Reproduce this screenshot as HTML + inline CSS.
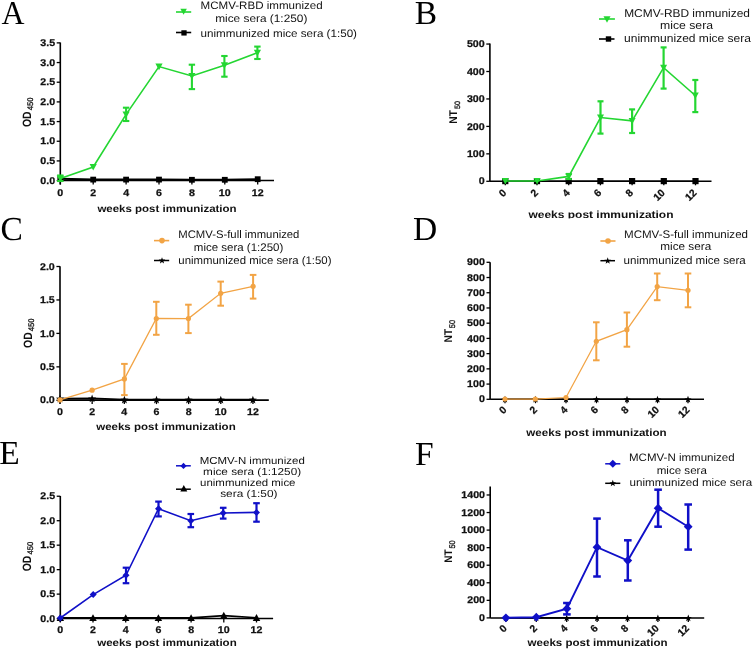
<!DOCTYPE html>
<html><head><meta charset="utf-8"><style>
html,body{margin:0;padding:0;background:#fff;}
body{width:753px;height:649px;overflow:hidden;}
svg{display:block;filter:blur(0.3px);}
</style></head><body>
<svg width="753" height="649" viewBox="0 0 753 649" text-rendering="geometricPrecision">
<rect width="753" height="649" fill="#fff"/>
<text x="1.6" y="24.2" font-family="Liberation Serif" font-size="33.5" fill="#000" transform="translate(1.6 0) scale(0.95 1) translate(-1.6 0)">A</text>
<line x1="60.30" y1="42.50" x2="60.30" y2="184.50" stroke="#000" stroke-width="1.6"/>
<line x1="56.70" y1="180.60" x2="60.30" y2="180.60" stroke="#000" stroke-width="1.3"/>
<text x="0" y="0" font-family="Liberation Sans" font-size="9.7" font-weight="bold" text-anchor="end" fill="#111" stroke="#111" stroke-width="0.25" transform="translate(55.10 183.70) scale(1.1 1)">0.0</text>
<line x1="56.70" y1="160.92" x2="60.30" y2="160.92" stroke="#000" stroke-width="1.3"/>
<text x="0" y="0" font-family="Liberation Sans" font-size="9.7" font-weight="bold" text-anchor="end" fill="#111" stroke="#111" stroke-width="0.25" transform="translate(55.10 164.02) scale(1.1 1)">0.5</text>
<line x1="56.70" y1="141.25" x2="60.30" y2="141.25" stroke="#000" stroke-width="1.3"/>
<text x="0" y="0" font-family="Liberation Sans" font-size="9.7" font-weight="bold" text-anchor="end" fill="#111" stroke="#111" stroke-width="0.25" transform="translate(55.10 144.35) scale(1.1 1)">1.0</text>
<line x1="56.70" y1="121.57" x2="60.30" y2="121.57" stroke="#000" stroke-width="1.3"/>
<text x="0" y="0" font-family="Liberation Sans" font-size="9.7" font-weight="bold" text-anchor="end" fill="#111" stroke="#111" stroke-width="0.25" transform="translate(55.10 124.67) scale(1.1 1)">1.5</text>
<line x1="56.70" y1="101.90" x2="60.30" y2="101.90" stroke="#000" stroke-width="1.3"/>
<text x="0" y="0" font-family="Liberation Sans" font-size="9.7" font-weight="bold" text-anchor="end" fill="#111" stroke="#111" stroke-width="0.25" transform="translate(55.10 105.00) scale(1.1 1)">2.0</text>
<line x1="56.70" y1="82.22" x2="60.30" y2="82.22" stroke="#000" stroke-width="1.3"/>
<text x="0" y="0" font-family="Liberation Sans" font-size="9.7" font-weight="bold" text-anchor="end" fill="#111" stroke="#111" stroke-width="0.25" transform="translate(55.10 85.32) scale(1.1 1)">2.5</text>
<line x1="56.70" y1="62.55" x2="60.30" y2="62.55" stroke="#000" stroke-width="1.3"/>
<text x="0" y="0" font-family="Liberation Sans" font-size="9.7" font-weight="bold" text-anchor="end" fill="#111" stroke="#111" stroke-width="0.25" transform="translate(55.10 65.65) scale(1.1 1)">3.0</text>
<line x1="56.70" y1="42.88" x2="60.30" y2="42.88" stroke="#000" stroke-width="1.3"/>
<text x="0" y="0" font-family="Liberation Sans" font-size="9.7" font-weight="bold" text-anchor="end" fill="#111" stroke="#111" stroke-width="0.25" transform="translate(55.10 45.98) scale(1.1 1)">3.5</text>
<line x1="60.30" y1="180.50" x2="274.00" y2="180.50" stroke="#000" stroke-width="1.6"/>
<line x1="60.30" y1="180.50" x2="60.30" y2="184.50" stroke="#000" stroke-width="1.3"/>
<text x="0" y="0" font-family="Liberation Sans" font-size="9.7" font-weight="bold" text-anchor="middle" fill="#111" stroke="#111" stroke-width="0.25" transform="translate(60.30 195.90) scale(1.1 1)">0</text>
<line x1="93.20" y1="180.50" x2="93.20" y2="184.50" stroke="#000" stroke-width="1.3"/>
<text x="0" y="0" font-family="Liberation Sans" font-size="9.7" font-weight="bold" text-anchor="middle" fill="#111" stroke="#111" stroke-width="0.25" transform="translate(93.20 195.90) scale(1.1 1)">2</text>
<line x1="126.10" y1="180.50" x2="126.10" y2="184.50" stroke="#000" stroke-width="1.3"/>
<text x="0" y="0" font-family="Liberation Sans" font-size="9.7" font-weight="bold" text-anchor="middle" fill="#111" stroke="#111" stroke-width="0.25" transform="translate(126.10 195.90) scale(1.1 1)">4</text>
<line x1="159.00" y1="180.50" x2="159.00" y2="184.50" stroke="#000" stroke-width="1.3"/>
<text x="0" y="0" font-family="Liberation Sans" font-size="9.7" font-weight="bold" text-anchor="middle" fill="#111" stroke="#111" stroke-width="0.25" transform="translate(159.00 195.90) scale(1.1 1)">6</text>
<line x1="191.90" y1="180.50" x2="191.90" y2="184.50" stroke="#000" stroke-width="1.3"/>
<text x="0" y="0" font-family="Liberation Sans" font-size="9.7" font-weight="bold" text-anchor="middle" fill="#111" stroke="#111" stroke-width="0.25" transform="translate(191.90 195.90) scale(1.1 1)">8</text>
<line x1="224.80" y1="180.50" x2="224.80" y2="184.50" stroke="#000" stroke-width="1.3"/>
<text x="0" y="0" font-family="Liberation Sans" font-size="9.7" font-weight="bold" text-anchor="middle" fill="#111" stroke="#111" stroke-width="0.25" transform="translate(224.80 195.90) scale(1.1 1)">10</text>
<line x1="257.70" y1="180.50" x2="257.70" y2="184.50" stroke="#000" stroke-width="1.3"/>
<text x="0" y="0" font-family="Liberation Sans" font-size="9.7" font-weight="bold" text-anchor="middle" fill="#111" stroke="#111" stroke-width="0.25" transform="translate(257.70 195.90) scale(1.1 1)">12</text>
<text x="97.40" y="211.60" font-family="Liberation Sans" font-size="10.2" font-weight="bold" text-anchor="start" fill="#111" textLength="139.20" lengthAdjust="spacingAndGlyphs">weeks post immunization</text>
<g transform="translate(31.30 127.00) rotate(-90)"><text x="0" y="0" font-family="Liberation Sans" font-size="10.4" font-weight="bold" fill="#111" transform="scale(1 1.16)">OD</text><text x="0" y="0" font-family="Liberation Sans" font-size="7.7" font-weight="normal" fill="#111" stroke="#111" stroke-width="0.3" transform="translate(16.70 2.10) scale(1 1.05)">450</text></g>
<polyline points="60.30,178.80 93.20,179.60 126.10,179.60 159.00,179.60 191.90,179.80 224.80,179.80 257.70,179.20" fill="none" stroke="#000" stroke-width="2.0" stroke-linejoin="miter"/>
<rect x="57.40" y="175.90" width="5.80" height="5.80" fill="#000"/>
<rect x="90.30" y="176.70" width="5.80" height="5.80" fill="#000"/>
<rect x="123.20" y="176.70" width="5.80" height="5.80" fill="#000"/>
<rect x="156.10" y="176.70" width="5.80" height="5.80" fill="#000"/>
<rect x="189.00" y="176.90" width="5.80" height="5.80" fill="#000"/>
<rect x="221.90" y="176.90" width="5.80" height="5.80" fill="#000"/>
<rect x="254.80" y="176.30" width="5.80" height="5.80" fill="#000"/>
<polyline points="60.30,178.50 93.20,167.00 126.10,114.40 159.00,66.60 191.90,75.90 224.40,65.20 257.40,52.70" fill="none" stroke="#24d632" stroke-width="1.6" stroke-linejoin="miter"/>
<line x1="60.30" y1="175.50" x2="60.30" y2="181.00" stroke="#24d632" stroke-width="2.1"/>
<line x1="57.10" y1="175.50" x2="63.50" y2="175.50" stroke="#24d632" stroke-width="2.1"/>
<line x1="57.10" y1="181.00" x2="63.50" y2="181.00" stroke="#24d632" stroke-width="2.1"/>
<line x1="126.10" y1="107.70" x2="126.10" y2="121.00" stroke="#24d632" stroke-width="2.1"/>
<line x1="122.90" y1="107.70" x2="129.30" y2="107.70" stroke="#24d632" stroke-width="2.1"/>
<line x1="122.90" y1="121.00" x2="129.30" y2="121.00" stroke="#24d632" stroke-width="2.1"/>
<line x1="191.90" y1="64.70" x2="191.90" y2="89.10" stroke="#24d632" stroke-width="2.1"/>
<line x1="188.70" y1="64.70" x2="195.10" y2="64.70" stroke="#24d632" stroke-width="2.1"/>
<line x1="188.70" y1="89.10" x2="195.10" y2="89.10" stroke="#24d632" stroke-width="2.1"/>
<line x1="224.40" y1="56.00" x2="224.40" y2="76.70" stroke="#24d632" stroke-width="2.1"/>
<line x1="221.20" y1="56.00" x2="227.60" y2="56.00" stroke="#24d632" stroke-width="2.1"/>
<line x1="221.20" y1="76.70" x2="227.60" y2="76.70" stroke="#24d632" stroke-width="2.1"/>
<line x1="257.40" y1="46.60" x2="257.40" y2="59.00" stroke="#24d632" stroke-width="2.1"/>
<line x1="254.20" y1="46.60" x2="260.60" y2="46.60" stroke="#24d632" stroke-width="2.1"/>
<line x1="254.20" y1="59.00" x2="260.60" y2="59.00" stroke="#24d632" stroke-width="2.1"/>
<polygon points="56.70,175.48 63.90,175.48 60.30,182.10" fill="#24d632"/>
<polygon points="89.60,163.98 96.80,163.98 93.20,170.60" fill="#24d632"/>
<polygon points="122.50,111.38 129.70,111.38 126.10,118.00" fill="#24d632"/>
<polygon points="155.40,63.58 162.60,63.58 159.00,70.20" fill="#24d632"/>
<polygon points="188.30,72.88 195.50,72.88 191.90,79.50" fill="#24d632"/>
<polygon points="220.80,62.18 228.00,62.18 224.40,68.80" fill="#24d632"/>
<polygon points="253.80,49.68 261.00,49.68 257.40,56.30" fill="#24d632"/>
<line x1="176.00" y1="12.00" x2="191.20" y2="12.00" stroke="#24d632" stroke-width="1.6"/>
<polygon points="180.35,8.87 186.85,8.87 183.60,14.85" fill="#24d632"/>
<text x="200.50" y="9.00" font-family="Liberation Sans" font-size="10.8" font-weight="normal" text-anchor="start" fill="#111" textLength="122.20" lengthAdjust="spacingAndGlyphs">MCMV-RBD immunized</text>
<text x="215.20" y="21.90" font-family="Liberation Sans" font-size="10.8" font-weight="normal" text-anchor="start" fill="#111" textLength="92.20" lengthAdjust="spacingAndGlyphs">mice sera (1:250)</text>
<line x1="176.00" y1="32.50" x2="191.20" y2="32.50" stroke="#000" stroke-width="1.6"/>
<rect x="181.35" y="30.25" width="5.30" height="5.30" fill="#000"/>
<text x="200.50" y="36.50" font-family="Liberation Sans" font-size="10.8" font-weight="normal" text-anchor="start" fill="#111" textLength="156.50" lengthAdjust="spacingAndGlyphs">unimmunized mice sera (1:50)</text>
<text x="414.70" y="23.90" font-family="Liberation Serif" font-size="33.5" fill="#000">B</text>
<line x1="489.90" y1="43.50" x2="489.90" y2="181.30" stroke="#000" stroke-width="1.6"/>
<line x1="486.30" y1="181.30" x2="489.90" y2="181.30" stroke="#000" stroke-width="1.3"/>
<text x="0" y="0" font-family="Liberation Sans" font-size="9.7" font-weight="bold" text-anchor="end" fill="#111" stroke="#111" stroke-width="0.25" transform="translate(484.70 184.40) scale(1.1 1)">0</text>
<line x1="486.30" y1="153.85" x2="489.90" y2="153.85" stroke="#000" stroke-width="1.3"/>
<text x="0" y="0" font-family="Liberation Sans" font-size="9.7" font-weight="bold" text-anchor="end" fill="#111" stroke="#111" stroke-width="0.25" transform="translate(484.70 156.95) scale(1.1 1)">100</text>
<line x1="486.30" y1="126.40" x2="489.90" y2="126.40" stroke="#000" stroke-width="1.3"/>
<text x="0" y="0" font-family="Liberation Sans" font-size="9.7" font-weight="bold" text-anchor="end" fill="#111" stroke="#111" stroke-width="0.25" transform="translate(484.70 129.50) scale(1.1 1)">200</text>
<line x1="486.30" y1="98.95" x2="489.90" y2="98.95" stroke="#000" stroke-width="1.3"/>
<text x="0" y="0" font-family="Liberation Sans" font-size="9.7" font-weight="bold" text-anchor="end" fill="#111" stroke="#111" stroke-width="0.25" transform="translate(484.70 102.05) scale(1.1 1)">300</text>
<line x1="486.30" y1="71.50" x2="489.90" y2="71.50" stroke="#000" stroke-width="1.3"/>
<text x="0" y="0" font-family="Liberation Sans" font-size="9.7" font-weight="bold" text-anchor="end" fill="#111" stroke="#111" stroke-width="0.25" transform="translate(484.70 74.60) scale(1.1 1)">400</text>
<line x1="486.30" y1="44.05" x2="489.90" y2="44.05" stroke="#000" stroke-width="1.3"/>
<text x="0" y="0" font-family="Liberation Sans" font-size="9.7" font-weight="bold" text-anchor="end" fill="#111" stroke="#111" stroke-width="0.25" transform="translate(484.70 47.15) scale(1.1 1)">500</text>
<line x1="489.90" y1="181.30" x2="711.50" y2="181.30" stroke="#000" stroke-width="1.6"/>
<line x1="505.30" y1="181.30" x2="505.30" y2="185.30" stroke="#000" stroke-width="1.3"/>
<text x="0" y="0" font-family="Liberation Sans" font-size="10.299999999999999" font-weight="bold" text-anchor="end" fill="#111" stroke="#111" stroke-width="0.25" transform="translate(502.10 188.50) rotate(-45) translate(0 6.98)">0</text>
<line x1="537.00" y1="181.30" x2="537.00" y2="185.30" stroke="#000" stroke-width="1.3"/>
<text x="0" y="0" font-family="Liberation Sans" font-size="10.299999999999999" font-weight="bold" text-anchor="end" fill="#111" stroke="#111" stroke-width="0.25" transform="translate(533.80 188.50) rotate(-45) translate(0 6.98)">2</text>
<line x1="568.70" y1="181.30" x2="568.70" y2="185.30" stroke="#000" stroke-width="1.3"/>
<text x="0" y="0" font-family="Liberation Sans" font-size="10.299999999999999" font-weight="bold" text-anchor="end" fill="#111" stroke="#111" stroke-width="0.25" transform="translate(565.50 188.50) rotate(-45) translate(0 6.98)">4</text>
<line x1="600.40" y1="181.30" x2="600.40" y2="185.30" stroke="#000" stroke-width="1.3"/>
<text x="0" y="0" font-family="Liberation Sans" font-size="10.299999999999999" font-weight="bold" text-anchor="end" fill="#111" stroke="#111" stroke-width="0.25" transform="translate(597.20 188.50) rotate(-45) translate(0 6.98)">6</text>
<line x1="632.10" y1="181.30" x2="632.10" y2="185.30" stroke="#000" stroke-width="1.3"/>
<text x="0" y="0" font-family="Liberation Sans" font-size="10.299999999999999" font-weight="bold" text-anchor="end" fill="#111" stroke="#111" stroke-width="0.25" transform="translate(628.90 188.50) rotate(-45) translate(0 6.98)">8</text>
<line x1="663.80" y1="181.30" x2="663.80" y2="185.30" stroke="#000" stroke-width="1.3"/>
<text x="0" y="0" font-family="Liberation Sans" font-size="10.299999999999999" font-weight="bold" text-anchor="end" fill="#111" stroke="#111" stroke-width="0.25" transform="translate(660.60 188.50) rotate(-45) translate(0 6.98)">10</text>
<line x1="695.50" y1="181.30" x2="695.50" y2="185.30" stroke="#000" stroke-width="1.3"/>
<text x="0" y="0" font-family="Liberation Sans" font-size="10.299999999999999" font-weight="bold" text-anchor="end" fill="#111" stroke="#111" stroke-width="0.25" transform="translate(692.30 188.50) rotate(-45) translate(0 6.98)">12</text>
<text x="528.50" y="218.30" font-family="Liberation Sans" font-size="10.4" font-weight="bold" text-anchor="start" fill="#111" textLength="145.00" lengthAdjust="spacingAndGlyphs">weeks post immunization</text>
<g transform="translate(457.30 123.70) rotate(-90)"><text x="0" y="0" font-family="Liberation Sans" font-size="10.2" font-weight="bold" fill="#111" transform="scale(1 1.1)">NT</text><text x="0" y="0" font-family="Liberation Sans" font-size="7.2" font-weight="normal" fill="#111" stroke="#111" stroke-width="0.3" transform="translate(14.60 2.40) scale(1 1.07)">50</text></g>
<polyline points="505.30,181.10 537.00,181.10 568.70,181.10 600.40,181.10 632.10,181.10 663.80,181.10 695.50,181.10" fill="none" stroke="#000" stroke-width="1.2" stroke-linejoin="miter"/>
<rect x="502.20" y="178.00" width="6.20" height="6.20" fill="#000"/>
<rect x="533.90" y="178.00" width="6.20" height="6.20" fill="#000"/>
<rect x="565.60" y="178.00" width="6.20" height="6.20" fill="#000"/>
<rect x="597.30" y="178.00" width="6.20" height="6.20" fill="#000"/>
<rect x="629.00" y="178.00" width="6.20" height="6.20" fill="#000"/>
<rect x="660.70" y="178.00" width="6.20" height="6.20" fill="#000"/>
<rect x="692.40" y="178.00" width="6.20" height="6.20" fill="#000"/>
<polyline points="505.30,181.00 537.10,181.00 568.80,176.40 600.50,117.50 632.10,120.90 663.60,67.70 695.30,95.50" fill="none" stroke="#24d632" stroke-width="1.6" stroke-linejoin="miter"/>
<line x1="568.80" y1="174.00" x2="568.80" y2="179.00" stroke="#24d632" stroke-width="2.2"/>
<line x1="565.80" y1="174.00" x2="571.80" y2="174.00" stroke="#24d632" stroke-width="2.2"/>
<line x1="565.80" y1="179.00" x2="571.80" y2="179.00" stroke="#24d632" stroke-width="2.2"/>
<line x1="600.50" y1="101.30" x2="600.50" y2="133.60" stroke="#24d632" stroke-width="2.2"/>
<line x1="597.50" y1="101.30" x2="603.50" y2="101.30" stroke="#24d632" stroke-width="2.2"/>
<line x1="597.50" y1="133.60" x2="603.50" y2="133.60" stroke="#24d632" stroke-width="2.2"/>
<line x1="632.10" y1="109.40" x2="632.10" y2="133.00" stroke="#24d632" stroke-width="2.2"/>
<line x1="629.10" y1="109.40" x2="635.10" y2="109.40" stroke="#24d632" stroke-width="2.2"/>
<line x1="629.10" y1="133.00" x2="635.10" y2="133.00" stroke="#24d632" stroke-width="2.2"/>
<line x1="663.60" y1="47.40" x2="663.60" y2="88.60" stroke="#24d632" stroke-width="2.2"/>
<line x1="660.60" y1="47.40" x2="666.60" y2="47.40" stroke="#24d632" stroke-width="2.2"/>
<line x1="660.60" y1="88.60" x2="666.60" y2="88.60" stroke="#24d632" stroke-width="2.2"/>
<line x1="695.30" y1="80.00" x2="695.30" y2="112.10" stroke="#24d632" stroke-width="2.2"/>
<line x1="692.30" y1="80.00" x2="698.30" y2="80.00" stroke="#24d632" stroke-width="2.2"/>
<line x1="692.30" y1="112.10" x2="698.30" y2="112.10" stroke="#24d632" stroke-width="2.2"/>
<polygon points="501.80,178.06 508.80,178.06 505.30,184.50" fill="#24d632"/>
<polygon points="533.60,178.06 540.60,178.06 537.10,184.50" fill="#24d632"/>
<polygon points="565.30,173.46 572.30,173.46 568.80,179.90" fill="#24d632"/>
<polygon points="597.00,114.56 604.00,114.56 600.50,121.00" fill="#24d632"/>
<polygon points="628.60,117.96 635.60,117.96 632.10,124.40" fill="#24d632"/>
<polygon points="660.10,64.76 667.10,64.76 663.60,71.20" fill="#24d632"/>
<polygon points="691.80,92.56 698.80,92.56 695.30,99.00" fill="#24d632"/>
<line x1="599.00" y1="19.00" x2="614.90" y2="19.00" stroke="#24d632" stroke-width="1.6"/>
<polygon points="603.50,16.36 610.50,16.36 607.00,22.80" fill="#24d632"/>
<text x="624.20" y="17.30" font-family="Liberation Sans" font-size="11.3" font-weight="normal" text-anchor="start" fill="#111" textLength="125.80" lengthAdjust="spacingAndGlyphs">MCMV-RBD immunized</text>
<text x="660.00" y="29.20" font-family="Liberation Sans" font-size="11.3" font-weight="normal" text-anchor="start" fill="#111" textLength="53.00" lengthAdjust="spacingAndGlyphs">mice sera</text>
<line x1="599.00" y1="39.00" x2="614.50" y2="39.00" stroke="#000" stroke-width="1.6"/>
<rect x="605.80" y="36.30" width="5.40" height="5.40" fill="#000"/>
<text x="624.00" y="42.20" font-family="Liberation Sans" font-size="11.3" font-weight="normal" text-anchor="start" fill="#111" textLength="127.00" lengthAdjust="spacingAndGlyphs">unimmunized mice sera</text>
<rect x="376" y="218.4" width="377" height="6" fill="#fff"/>
<text x="0.50" y="239.80" font-family="Liberation Serif" font-size="33.5" fill="#000">C</text>
<line x1="60.00" y1="266.30" x2="60.00" y2="403.50" stroke="#000" stroke-width="1.6"/>
<line x1="56.40" y1="400.30" x2="60.00" y2="400.30" stroke="#000" stroke-width="1.3"/>
<text x="0" y="0" font-family="Liberation Sans" font-size="9.7" font-weight="bold" text-anchor="end" fill="#111" stroke="#111" stroke-width="0.25" transform="translate(54.80 403.40) scale(1.1 1)">0.0</text>
<line x1="56.40" y1="366.85" x2="60.00" y2="366.85" stroke="#000" stroke-width="1.3"/>
<text x="0" y="0" font-family="Liberation Sans" font-size="9.7" font-weight="bold" text-anchor="end" fill="#111" stroke="#111" stroke-width="0.25" transform="translate(54.80 369.95) scale(1.1 1)">0.5</text>
<line x1="56.40" y1="333.40" x2="60.00" y2="333.40" stroke="#000" stroke-width="1.3"/>
<text x="0" y="0" font-family="Liberation Sans" font-size="9.7" font-weight="bold" text-anchor="end" fill="#111" stroke="#111" stroke-width="0.25" transform="translate(54.80 336.50) scale(1.1 1)">1.0</text>
<line x1="56.40" y1="299.95" x2="60.00" y2="299.95" stroke="#000" stroke-width="1.3"/>
<text x="0" y="0" font-family="Liberation Sans" font-size="9.7" font-weight="bold" text-anchor="end" fill="#111" stroke="#111" stroke-width="0.25" transform="translate(54.80 303.05) scale(1.1 1)">1.5</text>
<line x1="56.40" y1="266.50" x2="60.00" y2="266.50" stroke="#000" stroke-width="1.3"/>
<text x="0" y="0" font-family="Liberation Sans" font-size="9.7" font-weight="bold" text-anchor="end" fill="#111" stroke="#111" stroke-width="0.25" transform="translate(54.80 269.60) scale(1.1 1)">2.0</text>
<line x1="60.00" y1="400.10" x2="268.80" y2="400.10" stroke="#000" stroke-width="1.6"/>
<line x1="60.00" y1="400.10" x2="60.00" y2="404.10" stroke="#000" stroke-width="1.3"/>
<text x="0" y="0" font-family="Liberation Sans" font-size="9.7" font-weight="bold" text-anchor="middle" fill="#111" stroke="#111" stroke-width="0.25" transform="translate(60.00 414.90) scale(1.1 1)">0</text>
<line x1="92.16" y1="400.10" x2="92.16" y2="404.10" stroke="#000" stroke-width="1.3"/>
<text x="0" y="0" font-family="Liberation Sans" font-size="9.7" font-weight="bold" text-anchor="middle" fill="#111" stroke="#111" stroke-width="0.25" transform="translate(92.16 414.90) scale(1.1 1)">2</text>
<line x1="124.32" y1="400.10" x2="124.32" y2="404.10" stroke="#000" stroke-width="1.3"/>
<text x="0" y="0" font-family="Liberation Sans" font-size="9.7" font-weight="bold" text-anchor="middle" fill="#111" stroke="#111" stroke-width="0.25" transform="translate(124.32 414.90) scale(1.1 1)">4</text>
<line x1="156.48" y1="400.10" x2="156.48" y2="404.10" stroke="#000" stroke-width="1.3"/>
<text x="0" y="0" font-family="Liberation Sans" font-size="9.7" font-weight="bold" text-anchor="middle" fill="#111" stroke="#111" stroke-width="0.25" transform="translate(156.48 414.90) scale(1.1 1)">6</text>
<line x1="188.64" y1="400.10" x2="188.64" y2="404.10" stroke="#000" stroke-width="1.3"/>
<text x="0" y="0" font-family="Liberation Sans" font-size="9.7" font-weight="bold" text-anchor="middle" fill="#111" stroke="#111" stroke-width="0.25" transform="translate(188.64 414.90) scale(1.1 1)">8</text>
<line x1="220.80" y1="400.10" x2="220.80" y2="404.10" stroke="#000" stroke-width="1.3"/>
<text x="0" y="0" font-family="Liberation Sans" font-size="9.7" font-weight="bold" text-anchor="middle" fill="#111" stroke="#111" stroke-width="0.25" transform="translate(220.80 414.90) scale(1.1 1)">10</text>
<line x1="252.96" y1="400.10" x2="252.96" y2="404.10" stroke="#000" stroke-width="1.3"/>
<text x="0" y="0" font-family="Liberation Sans" font-size="9.7" font-weight="bold" text-anchor="middle" fill="#111" stroke="#111" stroke-width="0.25" transform="translate(252.96 414.90) scale(1.1 1)">12</text>
<text x="96.20" y="429.70" font-family="Liberation Sans" font-size="10.2" font-weight="bold" text-anchor="start" fill="#111" textLength="139.50" lengthAdjust="spacingAndGlyphs">weeks post immunization</text>
<g transform="translate(31.70 347.90) rotate(-90)"><text x="0" y="0" font-family="Liberation Sans" font-size="10.4" font-weight="bold" fill="#111" transform="scale(1 1.16)">OD</text><text x="0" y="0" font-family="Liberation Sans" font-size="7.7" font-weight="normal" fill="#111" stroke="#111" stroke-width="0.3" transform="translate(16.70 2.10) scale(1 1.05)">450</text></g>
<polyline points="60.00,398.60 92.10,398.40 124.40,399.60 156.50,399.60 188.60,399.60 220.80,399.60 252.90,399.60" fill="none" stroke="#000" stroke-width="1.8" stroke-linejoin="miter"/>
<polygon points="60.00,394.78 61.05,397.58 64.04,397.71 61.70,399.58 62.50,402.46 60.00,400.81 57.50,402.46 58.30,399.58 55.96,397.71 58.95,397.58" fill="#000"/>
<polygon points="92.10,394.57 93.15,397.38 96.14,397.51 93.80,399.38 94.60,402.26 92.10,400.61 89.60,402.26 90.40,399.38 88.06,397.51 91.05,397.38" fill="#000"/>
<polygon points="124.40,395.78 125.45,398.58 128.44,398.71 126.10,400.58 126.90,403.46 124.40,401.81 121.90,403.46 122.70,400.58 120.36,398.71 123.35,398.58" fill="#000"/>
<polygon points="156.50,395.78 157.55,398.58 160.54,398.71 158.20,400.58 159.00,403.46 156.50,401.81 154.00,403.46 154.80,400.58 152.46,398.71 155.45,398.58" fill="#000"/>
<polygon points="188.60,395.78 189.65,398.58 192.64,398.71 190.30,400.58 191.10,403.46 188.60,401.81 186.10,403.46 186.90,400.58 184.56,398.71 187.55,398.58" fill="#000"/>
<polygon points="220.80,395.78 221.85,398.58 224.84,398.71 222.50,400.58 223.30,403.46 220.80,401.81 218.30,403.46 219.10,400.58 216.76,398.71 219.75,398.58" fill="#000"/>
<polygon points="252.90,395.78 253.95,398.58 256.94,398.71 254.60,400.58 255.40,403.46 252.90,401.81 250.40,403.46 251.20,400.58 248.86,398.71 251.85,398.58" fill="#000"/>
<polyline points="60.00,399.90 92.10,390.20 124.40,378.90 156.30,318.50 188.40,318.60 220.70,293.30 253.10,286.30" fill="none" stroke="#f2a445" stroke-width="1.25" stroke-linejoin="miter"/>
<line x1="124.40" y1="363.90" x2="124.40" y2="395.10" stroke="#f2a445" stroke-width="2.0"/>
<line x1="121.10" y1="363.90" x2="127.70" y2="363.90" stroke="#f2a445" stroke-width="2.0"/>
<line x1="121.10" y1="395.10" x2="127.70" y2="395.10" stroke="#f2a445" stroke-width="2.0"/>
<line x1="156.30" y1="301.80" x2="156.30" y2="334.80" stroke="#f2a445" stroke-width="2.0"/>
<line x1="153.00" y1="301.80" x2="159.60" y2="301.80" stroke="#f2a445" stroke-width="2.0"/>
<line x1="153.00" y1="334.80" x2="159.60" y2="334.80" stroke="#f2a445" stroke-width="2.0"/>
<line x1="188.40" y1="304.70" x2="188.40" y2="333.10" stroke="#f2a445" stroke-width="2.0"/>
<line x1="185.10" y1="304.70" x2="191.70" y2="304.70" stroke="#f2a445" stroke-width="2.0"/>
<line x1="185.10" y1="333.10" x2="191.70" y2="333.10" stroke="#f2a445" stroke-width="2.0"/>
<line x1="220.70" y1="281.60" x2="220.70" y2="305.70" stroke="#f2a445" stroke-width="2.0"/>
<line x1="217.40" y1="281.60" x2="224.00" y2="281.60" stroke="#f2a445" stroke-width="2.0"/>
<line x1="217.40" y1="305.70" x2="224.00" y2="305.70" stroke="#f2a445" stroke-width="2.0"/>
<line x1="253.10" y1="274.90" x2="253.10" y2="298.60" stroke="#f2a445" stroke-width="2.0"/>
<line x1="249.80" y1="274.90" x2="256.40" y2="274.90" stroke="#f2a445" stroke-width="2.0"/>
<line x1="249.80" y1="298.60" x2="256.40" y2="298.60" stroke="#f2a445" stroke-width="2.0"/>
<circle cx="60.00" cy="399.90" r="2.60" fill="#f2a445"/>
<circle cx="92.10" cy="390.20" r="2.60" fill="#f2a445"/>
<circle cx="124.40" cy="378.90" r="2.60" fill="#f2a445"/>
<circle cx="156.30" cy="318.50" r="2.60" fill="#f2a445"/>
<circle cx="188.40" cy="318.60" r="2.60" fill="#f2a445"/>
<circle cx="220.70" cy="293.30" r="2.60" fill="#f2a445"/>
<circle cx="253.10" cy="286.30" r="2.60" fill="#f2a445"/>
<line x1="154.00" y1="240.60" x2="169.20" y2="240.60" stroke="#f2a445" stroke-width="1.6"/>
<circle cx="162.00" cy="240.60" r="2.80" fill="#f2a445"/>
<text x="178.30" y="237.70" font-family="Liberation Sans" font-size="11.0" font-weight="normal" text-anchor="start" fill="#111" textLength="121.10" lengthAdjust="spacingAndGlyphs">MCMV-S-full immunized</text>
<text x="193.80" y="250.60" font-family="Liberation Sans" font-size="11.0" font-weight="normal" text-anchor="start" fill="#111" textLength="89.50" lengthAdjust="spacingAndGlyphs">mice sera (1:250)</text>
<line x1="154.00" y1="260.50" x2="169.20" y2="260.50" stroke="#000" stroke-width="1.5"/>
<polygon points="162.00,257.15 162.86,259.46 165.33,259.57 163.40,261.10 164.06,263.48 162.00,262.12 159.94,263.48 160.60,261.10 158.67,259.57 161.14,259.46" fill="#000"/>
<text x="178.30" y="263.80" font-family="Liberation Sans" font-size="11.0" font-weight="normal" text-anchor="start" fill="#111" textLength="153.20" lengthAdjust="spacingAndGlyphs">unimmunized mice sera (1:50)</text>
<text x="413.10" y="240.30" font-family="Liberation Serif" font-size="33.5" fill="#000">D</text>
<line x1="490.10" y1="262.30" x2="490.10" y2="399.30" stroke="#000" stroke-width="1.6"/>
<line x1="486.50" y1="399.30" x2="490.10" y2="399.30" stroke="#000" stroke-width="1.3"/>
<text x="0" y="0" font-family="Liberation Sans" font-size="9.7" font-weight="bold" text-anchor="end" fill="#111" stroke="#111" stroke-width="0.25" transform="translate(484.90 402.40) scale(1.1 1)">0</text>
<line x1="486.50" y1="384.08" x2="490.10" y2="384.08" stroke="#000" stroke-width="1.3"/>
<text x="0" y="0" font-family="Liberation Sans" font-size="9.7" font-weight="bold" text-anchor="end" fill="#111" stroke="#111" stroke-width="0.25" transform="translate(484.90 387.18) scale(1.1 1)">100</text>
<line x1="486.50" y1="368.86" x2="490.10" y2="368.86" stroke="#000" stroke-width="1.3"/>
<text x="0" y="0" font-family="Liberation Sans" font-size="9.7" font-weight="bold" text-anchor="end" fill="#111" stroke="#111" stroke-width="0.25" transform="translate(484.90 371.96) scale(1.1 1)">200</text>
<line x1="486.50" y1="353.63" x2="490.10" y2="353.63" stroke="#000" stroke-width="1.3"/>
<text x="0" y="0" font-family="Liberation Sans" font-size="9.7" font-weight="bold" text-anchor="end" fill="#111" stroke="#111" stroke-width="0.25" transform="translate(484.90 356.73) scale(1.1 1)">300</text>
<line x1="486.50" y1="338.41" x2="490.10" y2="338.41" stroke="#000" stroke-width="1.3"/>
<text x="0" y="0" font-family="Liberation Sans" font-size="9.7" font-weight="bold" text-anchor="end" fill="#111" stroke="#111" stroke-width="0.25" transform="translate(484.90 341.51) scale(1.1 1)">400</text>
<line x1="486.50" y1="323.19" x2="490.10" y2="323.19" stroke="#000" stroke-width="1.3"/>
<text x="0" y="0" font-family="Liberation Sans" font-size="9.7" font-weight="bold" text-anchor="end" fill="#111" stroke="#111" stroke-width="0.25" transform="translate(484.90 326.29) scale(1.1 1)">500</text>
<line x1="486.50" y1="307.97" x2="490.10" y2="307.97" stroke="#000" stroke-width="1.3"/>
<text x="0" y="0" font-family="Liberation Sans" font-size="9.7" font-weight="bold" text-anchor="end" fill="#111" stroke="#111" stroke-width="0.25" transform="translate(484.90 311.07) scale(1.1 1)">600</text>
<line x1="486.50" y1="292.75" x2="490.10" y2="292.75" stroke="#000" stroke-width="1.3"/>
<text x="0" y="0" font-family="Liberation Sans" font-size="9.7" font-weight="bold" text-anchor="end" fill="#111" stroke="#111" stroke-width="0.25" transform="translate(484.90 295.85) scale(1.1 1)">700</text>
<line x1="486.50" y1="277.52" x2="490.10" y2="277.52" stroke="#000" stroke-width="1.3"/>
<text x="0" y="0" font-family="Liberation Sans" font-size="9.7" font-weight="bold" text-anchor="end" fill="#111" stroke="#111" stroke-width="0.25" transform="translate(484.90 280.62) scale(1.1 1)">800</text>
<line x1="486.50" y1="262.30" x2="490.10" y2="262.30" stroke="#000" stroke-width="1.3"/>
<text x="0" y="0" font-family="Liberation Sans" font-size="9.7" font-weight="bold" text-anchor="end" fill="#111" stroke="#111" stroke-width="0.25" transform="translate(484.90 265.40) scale(1.1 1)">900</text>
<line x1="490.10" y1="399.20" x2="704.00" y2="399.20" stroke="#000" stroke-width="1.6"/>
<line x1="505.00" y1="399.20" x2="505.00" y2="403.20" stroke="#000" stroke-width="1.3"/>
<text x="0" y="0" font-family="Liberation Sans" font-size="10.299999999999999" font-weight="bold" text-anchor="end" fill="#111" stroke="#111" stroke-width="0.25" transform="translate(502.40 405.50) rotate(-45) translate(0 6.98)">0</text>
<line x1="535.50" y1="399.20" x2="535.50" y2="403.20" stroke="#000" stroke-width="1.3"/>
<text x="0" y="0" font-family="Liberation Sans" font-size="10.299999999999999" font-weight="bold" text-anchor="end" fill="#111" stroke="#111" stroke-width="0.25" transform="translate(532.90 405.50) rotate(-45) translate(0 6.98)">2</text>
<line x1="566.00" y1="399.20" x2="566.00" y2="403.20" stroke="#000" stroke-width="1.3"/>
<text x="0" y="0" font-family="Liberation Sans" font-size="10.299999999999999" font-weight="bold" text-anchor="end" fill="#111" stroke="#111" stroke-width="0.25" transform="translate(563.40 405.50) rotate(-45) translate(0 6.98)">4</text>
<line x1="596.50" y1="399.20" x2="596.50" y2="403.20" stroke="#000" stroke-width="1.3"/>
<text x="0" y="0" font-family="Liberation Sans" font-size="10.299999999999999" font-weight="bold" text-anchor="end" fill="#111" stroke="#111" stroke-width="0.25" transform="translate(593.90 405.50) rotate(-45) translate(0 6.98)">6</text>
<line x1="627.00" y1="399.20" x2="627.00" y2="403.20" stroke="#000" stroke-width="1.3"/>
<text x="0" y="0" font-family="Liberation Sans" font-size="10.299999999999999" font-weight="bold" text-anchor="end" fill="#111" stroke="#111" stroke-width="0.25" transform="translate(624.40 405.50) rotate(-45) translate(0 6.98)">8</text>
<line x1="657.50" y1="399.20" x2="657.50" y2="403.20" stroke="#000" stroke-width="1.3"/>
<text x="0" y="0" font-family="Liberation Sans" font-size="10.299999999999999" font-weight="bold" text-anchor="end" fill="#111" stroke="#111" stroke-width="0.25" transform="translate(654.90 405.50) rotate(-45) translate(0 6.98)">10</text>
<line x1="688.00" y1="399.20" x2="688.00" y2="403.20" stroke="#000" stroke-width="1.3"/>
<text x="0" y="0" font-family="Liberation Sans" font-size="10.299999999999999" font-weight="bold" text-anchor="end" fill="#111" stroke="#111" stroke-width="0.25" transform="translate(685.40 405.50) rotate(-45) translate(0 6.98)">12</text>
<text x="526.30" y="435.90" font-family="Liberation Sans" font-size="10.3" font-weight="bold" text-anchor="start" fill="#111" textLength="140.30" lengthAdjust="spacingAndGlyphs">weeks post immunization</text>
<g transform="translate(451.70 342.40) rotate(-90)"><text x="0" y="0" font-family="Liberation Sans" font-size="10.2" font-weight="bold" fill="#111" transform="scale(1 1.1)">NT</text><text x="0" y="0" font-family="Liberation Sans" font-size="7.4" font-weight="normal" fill="#111" stroke="#111" stroke-width="0.3" transform="translate(14.20 3.00) scale(1 1.1)">50</text></g>
<polyline points="505.00,399.20 535.50,399.20 566.00,399.20 596.50,399.20 627.00,399.20 657.50,399.20 688.00,399.20" fill="none" stroke="#000" stroke-width="1.6" stroke-linejoin="miter"/>
<polygon points="505.00,395.82 505.93,398.30 508.57,398.42 506.50,400.06 507.20,402.61 505.00,401.15 502.80,402.61 503.50,400.06 501.43,398.42 504.07,398.30" fill="#000"/>
<polygon points="535.50,395.82 536.43,398.30 539.07,398.42 537.00,400.06 537.70,402.61 535.50,401.15 533.30,402.61 534.00,400.06 531.93,398.42 534.57,398.30" fill="#000"/>
<polygon points="566.00,395.82 566.93,398.30 569.57,398.42 567.50,400.06 568.20,402.61 566.00,401.15 563.80,402.61 564.50,400.06 562.43,398.42 565.07,398.30" fill="#000"/>
<polygon points="596.50,395.82 597.43,398.30 600.07,398.42 598.00,400.06 598.70,402.61 596.50,401.15 594.30,402.61 595.00,400.06 592.93,398.42 595.57,398.30" fill="#000"/>
<polygon points="627.00,395.82 627.93,398.30 630.57,398.42 628.50,400.06 629.20,402.61 627.00,401.15 624.80,402.61 625.50,400.06 623.43,398.42 626.07,398.30" fill="#000"/>
<polygon points="657.50,395.82 658.43,398.30 661.07,398.42 659.00,400.06 659.70,402.61 657.50,401.15 655.30,402.61 656.00,400.06 653.93,398.42 656.57,398.30" fill="#000"/>
<polygon points="688.00,395.82 688.93,398.30 691.57,398.42 689.50,400.06 690.20,402.61 688.00,401.15 685.80,402.61 686.50,400.06 684.43,398.42 687.07,398.30" fill="#000"/>
<polyline points="505.00,399.00 535.30,399.00 566.00,397.50 596.30,341.30 626.90,329.70 657.20,286.60 688.00,290.30" fill="none" stroke="#f2a445" stroke-width="1.25" stroke-linejoin="miter"/>
<line x1="596.30" y1="322.30" x2="596.30" y2="360.30" stroke="#f2a445" stroke-width="2.0"/>
<line x1="593.00" y1="322.30" x2="599.60" y2="322.30" stroke="#f2a445" stroke-width="2.0"/>
<line x1="593.00" y1="360.30" x2="599.60" y2="360.30" stroke="#f2a445" stroke-width="2.0"/>
<line x1="626.90" y1="312.50" x2="626.90" y2="346.70" stroke="#f2a445" stroke-width="2.0"/>
<line x1="623.60" y1="312.50" x2="630.20" y2="312.50" stroke="#f2a445" stroke-width="2.0"/>
<line x1="623.60" y1="346.70" x2="630.20" y2="346.70" stroke="#f2a445" stroke-width="2.0"/>
<line x1="657.20" y1="273.50" x2="657.20" y2="300.20" stroke="#f2a445" stroke-width="2.0"/>
<line x1="653.90" y1="273.50" x2="660.50" y2="273.50" stroke="#f2a445" stroke-width="2.0"/>
<line x1="653.90" y1="300.20" x2="660.50" y2="300.20" stroke="#f2a445" stroke-width="2.0"/>
<line x1="688.00" y1="273.50" x2="688.00" y2="307.30" stroke="#f2a445" stroke-width="2.0"/>
<line x1="684.70" y1="273.50" x2="691.30" y2="273.50" stroke="#f2a445" stroke-width="2.0"/>
<line x1="684.70" y1="307.30" x2="691.30" y2="307.30" stroke="#f2a445" stroke-width="2.0"/>
<circle cx="505.00" cy="399.00" r="2.60" fill="#f2a445"/>
<circle cx="535.30" cy="399.00" r="2.60" fill="#f2a445"/>
<circle cx="566.00" cy="397.50" r="2.60" fill="#f2a445"/>
<circle cx="596.30" cy="341.30" r="2.60" fill="#f2a445"/>
<circle cx="626.90" cy="329.70" r="2.60" fill="#f2a445"/>
<circle cx="657.20" cy="286.60" r="2.60" fill="#f2a445"/>
<circle cx="688.00" cy="290.30" r="2.60" fill="#f2a445"/>
<line x1="600.40" y1="241.00" x2="615.50" y2="241.00" stroke="#f2a445" stroke-width="1.6"/>
<circle cx="608.00" cy="241.00" r="2.80" fill="#f2a445"/>
<text x="624.00" y="238.40" font-family="Liberation Sans" font-size="11.0" font-weight="normal" text-anchor="start" fill="#111" textLength="124.00" lengthAdjust="spacingAndGlyphs">MCMV-S-full immunized</text>
<text x="660.30" y="250.30" font-family="Liberation Sans" font-size="11.0" font-weight="normal" text-anchor="start" fill="#111" textLength="50.90" lengthAdjust="spacingAndGlyphs">mice sera</text>
<line x1="600.40" y1="260.70" x2="615.00" y2="260.70" stroke="#000" stroke-width="1.5"/>
<polygon points="607.70,257.35 608.56,259.66 611.03,259.77 609.10,261.30 609.76,263.68 607.70,262.32 605.64,263.68 606.30,261.30 604.37,259.77 606.84,259.66" fill="#000"/>
<text x="623.50" y="264.40" font-family="Liberation Sans" font-size="11.0" font-weight="normal" text-anchor="start" fill="#111" textLength="122.30" lengthAdjust="spacingAndGlyphs">unimmunized mice sera</text>
<text x="-0.80" y="464.40" font-family="Liberation Serif" font-size="33.5" fill="#000">E</text>
<line x1="60.30" y1="496.00" x2="60.30" y2="622.00" stroke="#000" stroke-width="1.6"/>
<line x1="56.70" y1="618.60" x2="60.30" y2="618.60" stroke="#000" stroke-width="1.3"/>
<text x="0" y="0" font-family="Liberation Sans" font-size="9.7" font-weight="bold" text-anchor="end" fill="#111" stroke="#111" stroke-width="0.25" transform="translate(55.10 621.70) scale(1.1 1)">0.0</text>
<line x1="56.70" y1="594.12" x2="60.30" y2="594.12" stroke="#000" stroke-width="1.3"/>
<text x="0" y="0" font-family="Liberation Sans" font-size="9.7" font-weight="bold" text-anchor="end" fill="#111" stroke="#111" stroke-width="0.25" transform="translate(55.10 597.23) scale(1.1 1)">0.5</text>
<line x1="56.70" y1="569.65" x2="60.30" y2="569.65" stroke="#000" stroke-width="1.3"/>
<text x="0" y="0" font-family="Liberation Sans" font-size="9.7" font-weight="bold" text-anchor="end" fill="#111" stroke="#111" stroke-width="0.25" transform="translate(55.10 572.75) scale(1.1 1)">1.0</text>
<line x1="56.70" y1="545.17" x2="60.30" y2="545.17" stroke="#000" stroke-width="1.3"/>
<text x="0" y="0" font-family="Liberation Sans" font-size="9.7" font-weight="bold" text-anchor="end" fill="#111" stroke="#111" stroke-width="0.25" transform="translate(55.10 548.27) scale(1.1 1)">1.5</text>
<line x1="56.70" y1="520.70" x2="60.30" y2="520.70" stroke="#000" stroke-width="1.3"/>
<text x="0" y="0" font-family="Liberation Sans" font-size="9.7" font-weight="bold" text-anchor="end" fill="#111" stroke="#111" stroke-width="0.25" transform="translate(55.10 523.80) scale(1.1 1)">2.0</text>
<line x1="56.70" y1="496.23" x2="60.30" y2="496.23" stroke="#000" stroke-width="1.3"/>
<text x="0" y="0" font-family="Liberation Sans" font-size="9.7" font-weight="bold" text-anchor="end" fill="#111" stroke="#111" stroke-width="0.25" transform="translate(55.10 499.33) scale(1.1 1)">2.5</text>
<line x1="60.30" y1="618.50" x2="273.10" y2="618.50" stroke="#000" stroke-width="1.6"/>
<line x1="60.30" y1="618.50" x2="60.30" y2="622.50" stroke="#000" stroke-width="1.3"/>
<text x="0" y="0" font-family="Liberation Sans" font-size="9.7" font-weight="bold" text-anchor="middle" fill="#111" stroke="#111" stroke-width="0.25" transform="translate(60.30 632.90) scale(1.1 1)">0</text>
<line x1="93.00" y1="618.50" x2="93.00" y2="622.50" stroke="#000" stroke-width="1.3"/>
<text x="0" y="0" font-family="Liberation Sans" font-size="9.7" font-weight="bold" text-anchor="middle" fill="#111" stroke="#111" stroke-width="0.25" transform="translate(93.00 632.90) scale(1.1 1)">2</text>
<line x1="125.70" y1="618.50" x2="125.70" y2="622.50" stroke="#000" stroke-width="1.3"/>
<text x="0" y="0" font-family="Liberation Sans" font-size="9.7" font-weight="bold" text-anchor="middle" fill="#111" stroke="#111" stroke-width="0.25" transform="translate(125.70 632.90) scale(1.1 1)">4</text>
<line x1="158.40" y1="618.50" x2="158.40" y2="622.50" stroke="#000" stroke-width="1.3"/>
<text x="0" y="0" font-family="Liberation Sans" font-size="9.7" font-weight="bold" text-anchor="middle" fill="#111" stroke="#111" stroke-width="0.25" transform="translate(158.40 632.90) scale(1.1 1)">6</text>
<line x1="191.10" y1="618.50" x2="191.10" y2="622.50" stroke="#000" stroke-width="1.3"/>
<text x="0" y="0" font-family="Liberation Sans" font-size="9.7" font-weight="bold" text-anchor="middle" fill="#111" stroke="#111" stroke-width="0.25" transform="translate(191.10 632.90) scale(1.1 1)">8</text>
<line x1="223.80" y1="618.50" x2="223.80" y2="622.50" stroke="#000" stroke-width="1.3"/>
<text x="0" y="0" font-family="Liberation Sans" font-size="9.7" font-weight="bold" text-anchor="middle" fill="#111" stroke="#111" stroke-width="0.25" transform="translate(223.80 632.90) scale(1.1 1)">10</text>
<line x1="256.50" y1="618.50" x2="256.50" y2="622.50" stroke="#000" stroke-width="1.3"/>
<text x="0" y="0" font-family="Liberation Sans" font-size="9.7" font-weight="bold" text-anchor="middle" fill="#111" stroke="#111" stroke-width="0.25" transform="translate(256.50 632.90) scale(1.1 1)">12</text>
<text x="97.20" y="645.70" font-family="Liberation Sans" font-size="10.2" font-weight="bold" text-anchor="start" fill="#111" textLength="139.50" lengthAdjust="spacingAndGlyphs">weeks post immunization</text>
<g transform="translate(31.30 571.30) rotate(-90)"><text x="0" y="0" font-family="Liberation Sans" font-size="10.4" font-weight="bold" fill="#111" transform="scale(1 1.16)">OD</text><text x="0" y="0" font-family="Liberation Sans" font-size="7.7" font-weight="normal" fill="#111" stroke="#111" stroke-width="0.3" transform="translate(16.70 2.10) scale(1 1.05)">450</text></g>
<polyline points="60.30,617.80 93.00,617.90 125.70,617.90 158.40,617.90 191.10,617.90 223.80,615.60 256.50,617.80" fill="none" stroke="#000" stroke-width="1.6" stroke-linejoin="miter"/>
<polygon points="56.55,620.95 64.05,620.95 60.30,614.05" fill="#000"/>
<polygon points="89.25,621.05 96.75,621.05 93.00,614.15" fill="#000"/>
<polygon points="121.95,621.05 129.45,621.05 125.70,614.15" fill="#000"/>
<polygon points="154.65,621.05 162.15,621.05 158.40,614.15" fill="#000"/>
<polygon points="187.35,621.05 194.85,621.05 191.10,614.15" fill="#000"/>
<polygon points="220.05,618.75 227.55,618.75 223.80,611.85" fill="#000"/>
<polygon points="252.75,620.95 260.25,620.95 256.50,614.05" fill="#000"/>
<polyline points="60.30,618.00 93.20,594.60 126.00,575.30 158.50,508.70 190.80,520.70 223.20,513.00 256.50,512.40" fill="none" stroke="#1010c8" stroke-width="1.6" stroke-linejoin="miter"/>
<line x1="126.00" y1="567.70" x2="126.00" y2="583.20" stroke="#1010c8" stroke-width="2.2"/>
<line x1="122.70" y1="567.70" x2="129.30" y2="567.70" stroke="#1010c8" stroke-width="2.2"/>
<line x1="122.70" y1="583.20" x2="129.30" y2="583.20" stroke="#1010c8" stroke-width="2.2"/>
<line x1="158.50" y1="501.60" x2="158.50" y2="516.40" stroke="#1010c8" stroke-width="2.2"/>
<line x1="155.20" y1="501.60" x2="161.80" y2="501.60" stroke="#1010c8" stroke-width="2.2"/>
<line x1="155.20" y1="516.40" x2="161.80" y2="516.40" stroke="#1010c8" stroke-width="2.2"/>
<line x1="190.80" y1="514.00" x2="190.80" y2="527.20" stroke="#1010c8" stroke-width="2.2"/>
<line x1="187.50" y1="514.00" x2="194.10" y2="514.00" stroke="#1010c8" stroke-width="2.2"/>
<line x1="187.50" y1="527.20" x2="194.10" y2="527.20" stroke="#1010c8" stroke-width="2.2"/>
<line x1="223.20" y1="507.80" x2="223.20" y2="518.60" stroke="#1010c8" stroke-width="2.2"/>
<line x1="219.90" y1="507.80" x2="226.50" y2="507.80" stroke="#1010c8" stroke-width="2.2"/>
<line x1="219.90" y1="518.60" x2="226.50" y2="518.60" stroke="#1010c8" stroke-width="2.2"/>
<line x1="256.50" y1="503.20" x2="256.50" y2="521.70" stroke="#1010c8" stroke-width="2.2"/>
<line x1="253.20" y1="503.20" x2="259.80" y2="503.20" stroke="#1010c8" stroke-width="2.2"/>
<line x1="253.20" y1="521.70" x2="259.80" y2="521.70" stroke="#1010c8" stroke-width="2.2"/>
<polygon points="60.30,614.50 63.80,618.00 60.30,621.50 56.80,618.00" fill="#1010c8"/>
<polygon points="93.20,591.10 96.70,594.60 93.20,598.10 89.70,594.60" fill="#1010c8"/>
<polygon points="126.00,571.80 129.50,575.30 126.00,578.80 122.50,575.30" fill="#1010c8"/>
<polygon points="158.50,505.20 162.00,508.70 158.50,512.20 155.00,508.70" fill="#1010c8"/>
<polygon points="190.80,517.20 194.30,520.70 190.80,524.20 187.30,520.70" fill="#1010c8"/>
<polygon points="223.20,509.50 226.70,513.00 223.20,516.50 219.70,513.00" fill="#1010c8"/>
<polygon points="256.50,508.90 260.00,512.40 256.50,515.90 253.00,512.40" fill="#1010c8"/>
<line x1="176.00" y1="465.80" x2="190.80" y2="465.80" stroke="#1010c8" stroke-width="1.5"/>
<polygon points="183.50,462.80 186.60,465.90 183.50,469.00 180.40,465.90" fill="#1010c8"/>
<text x="199.70" y="463.60" font-family="Liberation Sans" font-size="10.2" font-weight="normal" text-anchor="start" fill="#111" textLength="105.10" lengthAdjust="spacingAndGlyphs">MCMV-N immunized</text>
<text x="203.10" y="474.70" font-family="Liberation Sans" font-size="10.2" font-weight="normal" text-anchor="start" fill="#111" textLength="98.00" lengthAdjust="spacingAndGlyphs">mice sera (1:1250)</text>
<line x1="176.00" y1="489.20" x2="190.80" y2="489.20" stroke="#000" stroke-width="1.5"/>
<polygon points="180.30,491.54 187.30,491.54 183.80,485.10" fill="#000"/>
<text x="200.10" y="486.30" font-family="Liberation Sans" font-size="10.2" font-weight="normal" text-anchor="start" fill="#111" textLength="95.40" lengthAdjust="spacingAndGlyphs">unimmunized mice</text>
<text x="220.20" y="497.10" font-family="Liberation Sans" font-size="10.2" font-weight="normal" text-anchor="start" fill="#111" textLength="57.30" lengthAdjust="spacingAndGlyphs">sera (1:50)</text>
<text x="415.10" y="464.70" font-family="Liberation Serif" font-size="33.5" fill="#000">F</text>
<line x1="490.20" y1="486.50" x2="490.20" y2="617.90" stroke="#000" stroke-width="1.6"/>
<line x1="486.60" y1="617.90" x2="490.20" y2="617.90" stroke="#000" stroke-width="1.3"/>
<text x="0" y="0" font-family="Liberation Sans" font-size="9.7" font-weight="bold" text-anchor="end" fill="#111" stroke="#111" stroke-width="0.25" transform="translate(485.00 621.00) scale(1.1 1)">0</text>
<line x1="486.60" y1="600.34" x2="490.20" y2="600.34" stroke="#000" stroke-width="1.3"/>
<text x="0" y="0" font-family="Liberation Sans" font-size="9.7" font-weight="bold" text-anchor="end" fill="#111" stroke="#111" stroke-width="0.25" transform="translate(485.00 603.44) scale(1.1 1)">200</text>
<line x1="486.60" y1="582.78" x2="490.20" y2="582.78" stroke="#000" stroke-width="1.3"/>
<text x="0" y="0" font-family="Liberation Sans" font-size="9.7" font-weight="bold" text-anchor="end" fill="#111" stroke="#111" stroke-width="0.25" transform="translate(485.00 585.88) scale(1.1 1)">400</text>
<line x1="486.60" y1="565.22" x2="490.20" y2="565.22" stroke="#000" stroke-width="1.3"/>
<text x="0" y="0" font-family="Liberation Sans" font-size="9.7" font-weight="bold" text-anchor="end" fill="#111" stroke="#111" stroke-width="0.25" transform="translate(485.00 568.32) scale(1.1 1)">600</text>
<line x1="486.60" y1="547.66" x2="490.20" y2="547.66" stroke="#000" stroke-width="1.3"/>
<text x="0" y="0" font-family="Liberation Sans" font-size="9.7" font-weight="bold" text-anchor="end" fill="#111" stroke="#111" stroke-width="0.25" transform="translate(485.00 550.76) scale(1.1 1)">800</text>
<line x1="486.60" y1="530.10" x2="490.20" y2="530.10" stroke="#000" stroke-width="1.3"/>
<text x="0" y="0" font-family="Liberation Sans" font-size="9.7" font-weight="bold" text-anchor="end" fill="#111" stroke="#111" stroke-width="0.25" transform="translate(485.00 533.20) scale(1.1 1)">1000</text>
<line x1="486.60" y1="512.54" x2="490.20" y2="512.54" stroke="#000" stroke-width="1.3"/>
<text x="0" y="0" font-family="Liberation Sans" font-size="9.7" font-weight="bold" text-anchor="end" fill="#111" stroke="#111" stroke-width="0.25" transform="translate(485.00 515.64) scale(1.1 1)">1200</text>
<line x1="486.60" y1="494.98" x2="490.20" y2="494.98" stroke="#000" stroke-width="1.3"/>
<text x="0" y="0" font-family="Liberation Sans" font-size="9.7" font-weight="bold" text-anchor="end" fill="#111" stroke="#111" stroke-width="0.25" transform="translate(485.00 498.08) scale(1.1 1)">1400</text>
<line x1="490.20" y1="618.00" x2="704.20" y2="618.00" stroke="#000" stroke-width="1.6"/>
<line x1="505.90" y1="618.00" x2="505.90" y2="622.00" stroke="#000" stroke-width="1.3"/>
<text x="0" y="0" font-family="Liberation Sans" font-size="10.299999999999999" font-weight="bold" text-anchor="end" fill="#111" stroke="#111" stroke-width="0.25" transform="translate(502.50 624.00) rotate(-45) translate(0 6.98)">0</text>
<line x1="536.30" y1="618.00" x2="536.30" y2="622.00" stroke="#000" stroke-width="1.3"/>
<text x="0" y="0" font-family="Liberation Sans" font-size="10.299999999999999" font-weight="bold" text-anchor="end" fill="#111" stroke="#111" stroke-width="0.25" transform="translate(532.90 624.00) rotate(-45) translate(0 6.98)">2</text>
<line x1="566.70" y1="618.00" x2="566.70" y2="622.00" stroke="#000" stroke-width="1.3"/>
<text x="0" y="0" font-family="Liberation Sans" font-size="10.299999999999999" font-weight="bold" text-anchor="end" fill="#111" stroke="#111" stroke-width="0.25" transform="translate(563.30 624.00) rotate(-45) translate(0 6.98)">4</text>
<line x1="597.10" y1="618.00" x2="597.10" y2="622.00" stroke="#000" stroke-width="1.3"/>
<text x="0" y="0" font-family="Liberation Sans" font-size="10.299999999999999" font-weight="bold" text-anchor="end" fill="#111" stroke="#111" stroke-width="0.25" transform="translate(593.70 624.00) rotate(-45) translate(0 6.98)">6</text>
<line x1="627.50" y1="618.00" x2="627.50" y2="622.00" stroke="#000" stroke-width="1.3"/>
<text x="0" y="0" font-family="Liberation Sans" font-size="10.299999999999999" font-weight="bold" text-anchor="end" fill="#111" stroke="#111" stroke-width="0.25" transform="translate(624.10 624.00) rotate(-45) translate(0 6.98)">8</text>
<line x1="657.90" y1="618.00" x2="657.90" y2="622.00" stroke="#000" stroke-width="1.3"/>
<text x="0" y="0" font-family="Liberation Sans" font-size="10.299999999999999" font-weight="bold" text-anchor="end" fill="#111" stroke="#111" stroke-width="0.25" transform="translate(654.50 624.00) rotate(-45) translate(0 6.98)">10</text>
<line x1="688.30" y1="618.00" x2="688.30" y2="622.00" stroke="#000" stroke-width="1.3"/>
<text x="0" y="0" font-family="Liberation Sans" font-size="10.299999999999999" font-weight="bold" text-anchor="end" fill="#111" stroke="#111" stroke-width="0.25" transform="translate(684.90 624.00) rotate(-45) translate(0 6.98)">12</text>
<text x="527.60" y="645.70" font-family="Liberation Sans" font-size="10.3" font-weight="bold" text-anchor="start" fill="#111" textLength="139.90" lengthAdjust="spacingAndGlyphs">weeks post immunization</text>
<g transform="translate(452.30 562.70) rotate(-90)"><text x="0" y="0" font-family="Liberation Sans" font-size="10.0" font-weight="bold" fill="#111" transform="scale(1 1.1)">NT</text><text x="0" y="0" font-family="Liberation Sans" font-size="7.4" font-weight="normal" fill="#111" stroke="#111" stroke-width="0.3" transform="translate(14.13 3.00) scale(1 1.1)">50</text></g>
<polyline points="505.90,617.90 536.30,617.90 566.70,617.90 597.10,617.90 627.50,617.90 657.90,617.90 688.30,617.90" fill="none" stroke="#000" stroke-width="1.6" stroke-linejoin="miter"/>
<polygon points="505.90,614.52 506.83,617.00 509.47,617.12 507.40,618.76 508.10,621.31 505.90,619.85 503.70,621.31 504.40,618.76 502.33,617.12 504.97,617.00" fill="#000"/>
<polygon points="536.30,614.52 537.23,617.00 539.87,617.12 537.80,618.76 538.50,621.31 536.30,619.85 534.10,621.31 534.80,618.76 532.73,617.12 535.37,617.00" fill="#000"/>
<polygon points="566.70,614.52 567.63,617.00 570.27,617.12 568.20,618.76 568.90,621.31 566.70,619.85 564.50,621.31 565.20,618.76 563.13,617.12 565.77,617.00" fill="#000"/>
<polygon points="597.10,614.52 598.03,617.00 600.67,617.12 598.60,618.76 599.30,621.31 597.10,619.85 594.90,621.31 595.60,618.76 593.53,617.12 596.17,617.00" fill="#000"/>
<polygon points="627.50,614.52 628.43,617.00 631.07,617.12 629.00,618.76 629.70,621.31 627.50,619.85 625.30,621.31 626.00,618.76 623.93,617.12 626.57,617.00" fill="#000"/>
<polygon points="657.90,614.52 658.83,617.00 661.47,617.12 659.40,618.76 660.10,621.31 657.90,619.85 655.70,621.31 656.40,618.76 654.33,617.12 656.97,617.00" fill="#000"/>
<polygon points="688.30,614.52 689.23,617.00 691.87,617.12 689.80,618.76 690.50,621.31 688.30,619.85 686.10,621.31 686.80,618.76 684.73,617.12 687.37,617.00" fill="#000"/>
<polyline points="505.90,617.80 536.30,617.20 566.90,608.70 597.00,547.20 627.80,560.50 658.10,508.20 688.20,526.70" fill="none" stroke="#1010c8" stroke-width="1.9" stroke-linejoin="miter"/>
<line x1="566.90" y1="603.00" x2="566.90" y2="614.40" stroke="#1010c8" stroke-width="2.5"/>
<line x1="563.10" y1="603.00" x2="570.70" y2="603.00" stroke="#1010c8" stroke-width="2.5"/>
<line x1="563.10" y1="614.40" x2="570.70" y2="614.40" stroke="#1010c8" stroke-width="2.5"/>
<line x1="597.00" y1="518.60" x2="597.00" y2="576.50" stroke="#1010c8" stroke-width="2.5"/>
<line x1="593.20" y1="518.60" x2="600.80" y2="518.60" stroke="#1010c8" stroke-width="2.5"/>
<line x1="593.20" y1="576.50" x2="600.80" y2="576.50" stroke="#1010c8" stroke-width="2.5"/>
<line x1="627.80" y1="540.30" x2="627.80" y2="580.50" stroke="#1010c8" stroke-width="2.5"/>
<line x1="624.00" y1="540.30" x2="631.60" y2="540.30" stroke="#1010c8" stroke-width="2.5"/>
<line x1="624.00" y1="580.50" x2="631.60" y2="580.50" stroke="#1010c8" stroke-width="2.5"/>
<line x1="658.10" y1="489.70" x2="658.10" y2="526.70" stroke="#1010c8" stroke-width="2.5"/>
<line x1="654.30" y1="489.70" x2="661.90" y2="489.70" stroke="#1010c8" stroke-width="2.5"/>
<line x1="654.30" y1="526.70" x2="661.90" y2="526.70" stroke="#1010c8" stroke-width="2.5"/>
<line x1="688.20" y1="504.50" x2="688.20" y2="549.60" stroke="#1010c8" stroke-width="2.5"/>
<line x1="684.40" y1="504.50" x2="692.00" y2="504.50" stroke="#1010c8" stroke-width="2.5"/>
<line x1="684.40" y1="549.60" x2="692.00" y2="549.60" stroke="#1010c8" stroke-width="2.5"/>
<polygon points="505.90,613.40 510.30,617.80 505.90,622.20 501.50,617.80" fill="#1010c8"/>
<polygon points="536.30,612.80 540.70,617.20 536.30,621.60 531.90,617.20" fill="#1010c8"/>
<polygon points="566.90,604.30 571.30,608.70 566.90,613.10 562.50,608.70" fill="#1010c8"/>
<polygon points="597.00,542.80 601.40,547.20 597.00,551.60 592.60,547.20" fill="#1010c8"/>
<polygon points="627.80,556.10 632.20,560.50 627.80,564.90 623.40,560.50" fill="#1010c8"/>
<polygon points="658.10,503.80 662.50,508.20 658.10,512.60 653.70,508.20" fill="#1010c8"/>
<polygon points="688.20,522.30 692.60,526.70 688.20,531.10 683.80,526.70" fill="#1010c8"/>
<line x1="605.20" y1="463.80" x2="620.30" y2="463.80" stroke="#1010c8" stroke-width="1.5"/>
<polygon points="612.80,459.80 616.80,463.80 612.80,467.80 608.80,463.80" fill="#1010c8"/>
<text x="629.00" y="461.20" font-family="Liberation Sans" font-size="10.8" font-weight="normal" text-anchor="start" fill="#111" textLength="105.60" lengthAdjust="spacingAndGlyphs">MCMV-N immunized</text>
<text x="656.70" y="473.50" font-family="Liberation Sans" font-size="10.8" font-weight="normal" text-anchor="start" fill="#111" textLength="50.20" lengthAdjust="spacingAndGlyphs">mice sera</text>
<line x1="605.20" y1="483.30" x2="620.30" y2="483.30" stroke="#000" stroke-width="1.5"/>
<polygon points="612.80,479.85 613.66,482.16 616.13,482.27 614.20,483.80 614.86,486.18 612.80,484.82 610.74,486.18 611.40,483.80 609.47,482.27 611.94,482.16" fill="#000"/>
<text x="629.60" y="486.10" font-family="Liberation Sans" font-size="10.8" font-weight="normal" text-anchor="start" fill="#111" textLength="122.70" lengthAdjust="spacingAndGlyphs">unimmunized mice sera</text>
</svg>
</body></html>
